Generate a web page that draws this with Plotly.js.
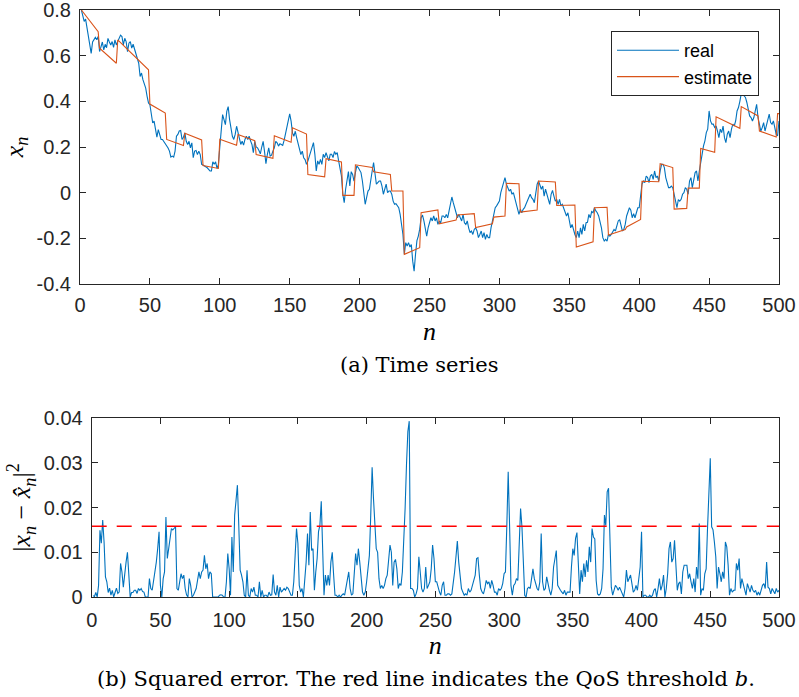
<!DOCTYPE html>
<html>
<head>
<meta charset="utf-8">
<script src="https://cdn.plot.ly/plotly-3.0.1.min.js"></script>
<style>html,body{margin:0;padding:0;background:#fff;}#chart{width:799px;height:697px;}</style>
</head>
<body>
<div id="chart"></div>
<script>
// Real time series x_n, n = 1..500
const realY = [
0.80,0.78,0.75,0.76,0.72,0.676,0.635,0.61,0.66,0.67,
0.68,0.67,0.684,0.618,0.635,0.66,0.625,0.65,0.635,0.676,
0.66,0.647,0.662,0.636,0.669,0.647,0.662,0.675,0.69,0.684,
0.647,0.676,0.662,0.618,0.655,0.662,0.633,0.65,0.63,0.604,
0.582,0.567,0.509,0.524,0.495,0.473,0.458,0.422,0.393,0.385,
0.342,0.305,0.313,0.284,0.243,0.276,0.257,0.233,0.233,0.225,
0.214,0.204,0.196,0.182,0.156,0.16,0.156,0.182,0.247,0.255,
0.27,0.272,0.233,0.243,0.262,0.225,0.211,0.225,0.196,0.218,
0.153,0.182,0.185,0.167,0.182,0.167,0.124,0.121,0.118,0.112,
0.109,0.102,0.095,0.095,0.135,0.124,0.135,0.106,0.124,0.20,
0.29,0.342,0.32,0.298,0.356,0.377,0.32,0.28,0.247,0.233,
0.255,0.291,0.262,0.233,0.211,0.225,0.208,0.233,0.247,0.233,
0.247,0.227,0.211,0.175,0.225,0.2,0.196,0.185,0.17,0.2,
0.225,0.18,0.127,0.167,0.196,0.16,0.164,0.182,0.196,0.225,
0.218,0.204,0.214,0.211,0.207,0.229,0.255,0.291,0.313,0.345,
0.313,0.262,0.247,0.269,0.24,0.218,0.196,0.167,0.182,0.153,
0.145,0.124,0.138,0.161,0.183,0.2,0.219,0.168,0.095,0.139,
0.124,0.146,0.124,0.168,0.154,0.175,0.161,0.139,0.168,0.168,
0.154,0.18,0.168,0.175,0.139,0.11,0.073,-0.007,-0.044,0.015,
0.051,0.092,0.029,0.092,0.08,0.051,0.088,0.117,0.11,0.095,
0.088,0.051,0.0,-0.051,-0.022,0.007,0.015,0.066,0.095,0.132,
0.08,0.037,0.044,0.051,0.051,0.029,-0.007,0.015,0.037,0.0,
0.007,0.007,-0.007,-0.037,-0.051,-0.048,-0.055,-0.066,-0.095,-0.139,
-0.183,-0.27,-0.219,-0.234,-0.219,-0.238,-0.227,-0.3,-0.344,-0.27,
-0.21,-0.19,-0.16,-0.11,-0.098,-0.124,-0.154,-0.19,-0.154,-0.132,
-0.11,-0.124,-0.102,-0.124,-0.11,-0.139,-0.124,-0.132,-0.102,-0.102,
-0.11,-0.095,-0.11,-0.08,-0.051,-0.019,-0.044,-0.066,-0.08,-0.11,
-0.095,-0.11,-0.124,-0.095,-0.132,-0.139,-0.124,-0.154,-0.175,-0.168,
-0.183,-0.161,-0.154,-0.168,-0.197,-0.183,-0.168,-0.197,-0.175,-0.205,
-0.183,-0.197,-0.197,-0.154,-0.124,-0.095,-0.066,-0.058,-0.045,-0.037,
0.0,0.022,0.051,0.066,0.037,0.022,0.007,0.015,-0.007,0.0,
-0.022,-0.051,-0.066,-0.095,-0.073,-0.088,-0.073,-0.066,-0.051,-0.037,
-0.029,-0.007,-0.022,-0.029,-0.044,-0.007,0.037,0.051,0.029,0.015,
0.029,-0.015,0.015,-0.007,-0.029,-0.051,-0.007,0.01,-0.015,-0.037,
-0.029,-0.051,-0.029,-0.058,-0.051,-0.066,-0.088,-0.102,-0.088,-0.124,
-0.154,-0.139,-0.165,-0.183,-0.197,-0.168,-0.197,-0.154,-0.183,-0.139,
-0.168,-0.132,-0.13,-0.095,-0.11,-0.083,-0.088,-0.066,-0.08,-0.088,
-0.102,-0.124,-0.154,-0.197,-0.212,-0.205,-0.212,-0.183,-0.19,-0.183,
-0.168,-0.161,-0.168,-0.139,-0.124,-0.118,-0.139,-0.168,-0.161,-0.139,
-0.102,-0.08,-0.066,-0.077,-0.11,-0.092,-0.11,-0.088,-0.066,-0.066,
-0.022,0.037,0.051,0.044,0.073,0.066,0.044,0.073,0.08,0.058,
0.095,0.066,0.073,0.051,0.095,0.124,0.124,0.11,0.066,0.037,
0.022,0.022,0.029,0.022,-0.007,-0.037,-0.066,-0.03,-0.037,-0.029,
-0.007,0.0,0.022,0.015,-0.007,0.051,0.066,0.022,0.051,0.088,
0.095,0.051,0.095,0.124,0.168,0.205,0.227,0.263,0.278,0.358,
0.314,0.3,0.3,0.285,0.292,0.27,0.241,0.278,0.263,0.292,
0.241,0.219,0.256,0.27,0.241,0.278,0.3,0.292,0.314,0.358,
0.373,0.4,0.431,0.468,0.424,0.417,0.395,0.358,0.336,0.329,
0.314,0.329,0.358,0.387,0.329,0.292,0.27,0.285,0.307,0.27,
0.3,0.314,0.344,0.307,0.3,0.314,0.285,0.255,0.249,0.314
];

// Estimate: vertices of the piecewise-linear estimate (n, value)
const estN = [1,13,14,26,27,49,50,61,62,74,75,87,88,99,100,112,113,125,126,138,139,151,152,162,163,175,176,187,188,196,197,209,210,222,223,231,232,243,244,256,257,269,270,282,283,295,296,304,305,314,315,327,328,340,341,354,355,367,368,377,378,390,391,401,402,414,415,424,425,434,435,443,444,454,455,472,473,485,486,498,499,500];
const estY = [0.80,0.705,0.633,0.567,0.669,0.538,0.388,0.349,0.233,0.207,0.26,0.231,0.119,0.106,0.234,0.208,0.255,0.228,0.167,0.15,0.249,0.221,0.284,0.257,0.079,0.069,0.149,0.135,-0.012,-0.012,0.122,0.110,0.091,0.080,0.007,0.007,-0.27,-0.241,-0.088,-0.076,-0.136,-0.12,-0.098,-0.092,-0.153,-0.136,-0.107,-0.102,0.041,0.039,-0.085,-0.076,0.051,0.047,-0.056,-0.054,-0.238,-0.215,-0.066,-0.064,-0.186,-0.162,-0.15,-0.117,0.05,0.048,0.127,0.11,-0.072,-0.069,0.02,0.02,0.194,0.177,0.332,0.282,0.377,0.336,0.27,0.244,0.346,0.346];

// Squared error |x_n - xhat_n|^2, n = 1..500
const sqErr = [
0.0003,0.0001,0.001,0,0.0026,0.0149,0.012,0.0172,0.0123,0.0045,
0.0034,0.001,0.002,0.0004,0.0015,0,0.001,0.002,0.0008,0.0011,
0.0075,0.0056,0.0022,0.0056,0.0078,0.01,0.0049,0,0.001,0.001,
0.0015,0.0015,0.0008,0.0019,0.0015,0.0019,0.0012,0.0011,0,0,
0,0.0041,0.0019,0.0015,0.0034,0.0055,0.0078,0.0108,0.0146,0.0026,
0,0.0041,0.0056,0.0179,0.0086,0.0108,0.0131,0.0153,0.015,0.0153,
0.0157,0.0019,0.0015,0.0034,0.0052,0.0041,0.0049,0.0019,0.0005,0,
0.0041,0.0026,0,0.0004,0.001,0.0019,0.0037,0.0056,0.0041,0.0056,
0.006,0.0093,0.0063,0.0075,0.0041,0.0056,0.0052,0,0,0,
0,0,0.0004,0.0005,0.0004,0,0,0.0034,0.0097,0.0063,
0.0004,0.0134,0.0056,0.0183,0.0216,0.025,0.016,0.006,0.0049,0.0034,
0.0004,0,0.006,0.0004,0,0.0019,0.0011,0.0022,0.0004,0.0004,
0,0.0034,0,0.0015,0,0.0004,0.0004,0,0.0011,0.0004,
0.0005,0.005,0.0011,0.0004,0.0026,0,0.0022,0.0011,0.0015,0.0019,
0.0015,0.0022,0.0019,0.0011,0.0004,0.0004,0.0034,0.0093,0.0153,0.012,
0.0026,0.0011,0.0019,0,0.0034,0.0078,0.0142,0.0071,0.019,0.0104,
0.0108,0.0015,0.0056,0.0086,0.0146,0.016,0.0214,0.0116,0.0004,0.0049,
0.0026,0.0049,0.0026,0.0078,0.01,0.0049,0.0004,0.0004,0,0.0004,
0,0.0004,0.0007,0.0004,0.0019,0.0034,0.0056,0.0019,0.0004,0.0007,
0.0049,0.0097,0.0071,0.0108,0.0078,0.0034,0.0011,0.0004,0.0011,0.0034,
0.006,0.0093,0.0183,0.029,0.022,0.016,0.0108,0.01,0.0041,0.0019,
0.0026,0.0019,0.0026,0.0041,0.0049,0.0082,0.0116,0.01,0.0026,0.0078,
0.0084,0.0063,0.0019,0.003,0.0026,0.0056,0.0123,0.0198,0.0295,0.037,
0.0393,0.0019,0.0019,0.0015,0,0.0007,0.0019,0.009,0.0056,0.0019,
0.0011,0.0019,0.0067,0.0019,0.0026,0.0034,0.0063,0.0116,0.0086,0.0034,
0.0034,0.0019,0.0011,0.0004,0.0026,0.0034,0.0004,0.0004,0.0007,0.0007,
0.0004,0.0007,0.003,0.0056,0.009,0.0125,0.0078,0.0049,0.0019,0.0011,
0.0004,0.0007,0.0004,0.0019,0.0011,0.0015,0.0026,0.0034,0.0049,0.0086,
0.0088,0.0049,0.0019,0.0011,0.0007,0.0019,0.0037,0.003,0.0034,0.0019,
0.0037,0.0026,0.0011,0.0011,0.0004,0.0019,0.0015,0.0019,0.003,0.0052,
0.0056,0.016,0.028,0.016,0.0026,0.0004,0.0026,0.003,0.0041,0.0037,
0.01,0.0198,0.0157,0.0086,0.0004,0,0.0019,0.0022,0.0019,0.0041,
0.0063,0.0041,0.0026,0.0019,0.0015,0.0034,0.0142,0.0034,0.0015,0.0019,
0.0045,0.0026,0.0015,0.0004,0.0019,0.0067,0.0086,0.0104,0.0026,0.0019,
0.0015,0.0011,0.0007,0.0015,0.0004,0.0011,0.0011,0.0011,0.0067,0.0108,
0.0093,0.0131,0.0144,0.0078,0.0007,0.006,0.0034,0.0075,0.0045,0.0082,
0.0056,0.0112,0.0078,0.0153,0.0134,0.013,0.0037,0.0007,0.0004,0.0007,
0.0019,0.0063,0.0183,0.016,0.0235,0.0243,0.0123,0.0022,0.0004,0.0019,
0.0026,0.0022,0.0015,0.0022,0.0015,0.0004,0,0.0019,0.006,0.0034,
0.0041,0.0049,0.003,0.0011,0.0015,0.0026,0.0015,0.0045,0.0067,0.0146,
0,0.0004,0.0004,0,0,0.0004,0,0.0004,0.0015,0.0019,
0,0.0019,0.0041,0.0015,0.0026,0.0049,0,0.0019,0.0052,0.0108,
0.0123,0.0078,0.0086,0.0127,0.0078,0.0015,0.003,0.0034,0.0007,0.0056,
0.0071,0.0071,0.0071,0.0041,0.0052,0.0034,0.0019,0.0041,0.0011,0.0067,
0.0041,0.0164,0.0004,0.0019,0.0015,0.0052,0.0063,0.0153,0.0246,0.031,
0.0157,0.015,0.0123,0.009,0.0019,0.0067,0.0052,0.0034,0.0056,0.0041,
0.0123,0.0112,0.0071,0.0004,0.0019,0.0011,0.0015,0.0015,0.0075,0.006,
0.0086,0.0019,0.0041,0.0026,0.0019,0.0004,0.003,0.0019,0.0011,0.0026,
0.0015,0.0011,0.0015,0.0004,0.0011,0.0004,0.0019,0.0026,0.003,0.0019,
0.0078,0.0022,0.0019,0.0007,0.0019,0.0011,0.0007,0.0019,0.0011,0.0015
];

const qosB = 0.0158;              // QoS threshold b
const nRange = [0, 500];

const xTicks = [0,50,100,150,200,250,300,350,400,450,500];
const yTopTicks = [-0.4,-0.2,0,0.2,0.4,0.6,0.8];
const yTopLabels = ['-0.4','-0.2','0','0.2','0.4','0.6','0.8'];
const yBotTicks = [0,0.01,0.02,0.03,0.04];
const yBotLabels = ['0','0.01','0.02','0.03','0.04'];

const nReal = realY.map((_, i) => i + 1);
const nErr = sqErr.map((_, i) => i + 1);

const W = 799, H = 697;
const AX = '#262626';
const SANS = 'Liberation Sans, Arial, Helvetica, sans-serif';
const SERIF = 'Liberation Serif';
const CAPTION = 'DejaVu Serif';

const traces = [
  {x: nReal, y: realY, type: 'scatter', mode: 'lines', name: 'real',
   line: {color: '#0072BD', width: 1.1}, xaxis: 'x', yaxis: 'y'},
  {x: estN, y: estY, type: 'scatter', mode: 'lines', name: 'estimate',
   line: {color: '#D95319', width: 1.1}, xaxis: 'x', yaxis: 'y'},
  {x: nErr, y: sqErr, type: 'scatter', mode: 'lines', showlegend: false,
   line: {color: '#0072BD', width: 1.1}, xaxis: 'x2', yaxis: 'y2'},
  {x: nRange, y: [qosB, qosB], type: 'scatter', mode: 'lines', showlegend: false,
   line: {color: '#FF0000', width: 1.4, dash: '15px,10px'}, xaxis: 'x2', yaxis: 'y2'}
];

function axisBase() {
  return {
    showline: true, mirror: 'ticks', linecolor: AX, linewidth: 1,
    ticks: 'inside', ticklen: 6, tickwidth: 1, tickcolor: AX,
    showgrid: false, zeroline: false, ticklabeloverflow: 'allow',
    tickfont: {family: SANS, size: 20, color: AX}
  };
}

const layout = {
  width: W, height: H,
  margin: {l: 0, r: 0, t: 0, b: 0},
  paper_bgcolor: '#fff', plot_bgcolor: '#fff',
  showlegend: true,
  legend: {
    x: 759 / W, xanchor: 'right', y: 1 - 31 / H, yanchor: 'top',
    bgcolor: '#fff', bordercolor: AX, borderwidth: 1,
    itemwidth: 62, tracegroupgap: 0,
    font: {family: SANS, size: 18, color: '#000'}
  },
  xaxis: Object.assign(axisBase(), {
    domain: [80 / W, 779 / W], anchor: 'y', range: nRange,
    tickvals: xTicks, ticklabelstandoff: 3,
    title: {text: '<i>n</i>', font: {family: SERIF, size: 26, color: '#000'}, standoff: 6}
  }),
  yaxis: Object.assign(axisBase(), {
    domain: [1 - 284 / H, 1 - 10 / H], anchor: 'x', range: [-0.4001, 0.8001],
    tickvals: yTopTicks, ticktext: yTopLabels, ticklabelstandoff: 4,
    title: {text: '<i>x</i><sub><i>n</i></sub>', font: {family: SERIF, size: 26, color: '#000'}, standoff: 8}
  }),
  xaxis2: Object.assign(axisBase(), {
    domain: [91.7 / W, 779 / W], anchor: 'y2', range: nRange,
    tickvals: xTicks, ticklabelstandoff: 5,
    title: {text: '<i>n</i>', font: {family: SERIF, size: 26, color: '#000'}, standoff: 2}
  }),
  yaxis2: Object.assign(axisBase(), {
    domain: [1 - 597 / H, 1 - 418 / H], anchor: 'x2', range: [0, 0.04001],
    tickvals: yBotTicks, ticktext: yBotLabels, ticklabelstandoff: 4,
    title: {text: '|<i>x</i><sub><i>n</i></sub> − <i>x̂</i><sub><i>n</i></sub>|<sup>2</sup>',
            font: {family: SERIF, size: 26, color: '#000'}, standoff: 5}
  }),
  annotations: [
    {text: '(a) Time series', xref: 'paper', yref: 'paper',
     x: 419 / W, y: 1 - 365 / H, xanchor: 'center', yanchor: 'middle', showarrow: false,
     font: {family: CAPTION, size: 21, color: '#000'}},
    {text: '(b) Squared error. The red line indicates the QoS threshold <i>b</i>.', xref: 'paper', yref: 'paper',
     x: 426 / W, y: 1 - 679 / H, xanchor: 'center', yanchor: 'middle', showarrow: false,
     font: {family: CAPTION, size: 21, color: '#000'}}
  ]
};

Plotly.newPlot('chart', traces, layout, {displayModeBar: false, staticPlot: true});
</script>
</body>
</html>
